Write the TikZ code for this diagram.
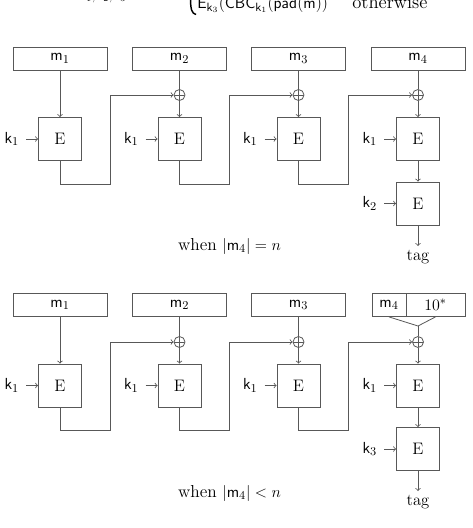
\documentclass[tikz,border=0pt]{standalone}
\usepackage{amsmath}
\definecolor{linegray}{RGB}{88,88,88}
\begin{document}
\begin{tikzpicture}[x=0.75pt,y=0.75pt,yscale=-1,xscale=1,
	font=\fontsize{12.5}{15}\selectfont,
	mbox/.style={draw=linegray, line width=0.6pt, minimum width=70.5pt, minimum height=17.25pt, inner sep=0pt},
	ebox/.style={draw=linegray, line width=0.6pt, minimum size=32.25pt, inner sep=0pt},
	xor/.style={circle, draw=linegray, line width=0.6pt, minimum size=8.25pt, inner sep=0pt,
		path picture={\draw[linegray, line width=0.6pt] (path picture bounding box.north) -- (path picture bounding box.south) (path picture bounding box.west) -- (path picture bounding box.east);}},
	wire/.style={draw=linegray, line width=0.6pt},
	klabel/.style={anchor=east, inner xsep=5pt, inner ysep=0.75pt},
	caption/.style={font=\fontsize{13}{15}\selectfont, inner sep=0.75pt}]
	\useasboundingbox (0,0) rectangle (472,528);
	\clip (0,0) rectangle (472,528);
	
	% Formula line, cut off at the top
	\node [anchor=base west, inner sep=0pt, font=\fontsize{9}{10}\selectfont] (subs) at (80,0.5) {$\mathsf{k}_1,\mathsf{k}_2,\mathsf{k}_3$};
	\draw [line width=1.1pt] (190.5,-3) .. controls (190.5,9) and (191.5,13.5) .. (196,14.5);
	\node [anchor=base west, inner sep=0pt, font=\fontsize{12.5}{15}\selectfont] (case) at (197,8.5) {$\mathsf{E}_{\mathsf{k}_3}(\mathsf{CBC}_{\mathsf{k}_1}(\mathsf{pad}(\mathsf{m}))$};
	\node [anchor=base west, inner sep=0pt, font=\fontsize{14}{16}\selectfont] (other) at (352,8.5) {otherwise};
	
	%%% Case |m4| = n
	% Message blocks
	\node [mbox] (m1a) at (60,58.5) {$\mathsf{m}_1$};
	\node [mbox] (m2a) at (179.5,58.5) {$\mathsf{m}_2$};
	\node [mbox] (m3a) at (298.5,58.5) {$\mathsf{m}_3$};
	\node [mbox] (m4a) at (418,58.5) {$\mathsf{m}_4$};
	% Xor
	\node [xor] (x2a) at (179.5,95) {};
	\node [xor] (x3a) at (298.5,95) {};
	\node [xor] (x4a) at (418,95) {};
	% Block cipher
	\node [ebox] (e1a) at (60,139) {E};
	\node [ebox] (e2a) at (179.5,139) {E};
	\node [ebox] (e3a) at (298.5,139) {E};
	\node [ebox] (e4a) at (418,139) {E};
	\node [ebox] (fa) at (418,203.5) {E};
	% Keys
	\node [klabel] (k1a) at (26,139) {$\mathsf{k}_1$};
	\node [klabel] (k2a) at (145.5,139) {$\mathsf{k}_1$};
	\node [klabel] (k3a) at (264.5,139) {$\mathsf{k}_1$};
	\node [klabel] (k4a) at (384,139) {$\mathsf{k}_1$};
	\node [klabel] (kfa) at (384,203.5) {$\mathsf{k}_2$};
	% Output
	\node [anchor=north, inner xsep=0.75pt, inner ysep=3pt] (taga) at (418,246) {tag};
	\node [caption] (capa) at (229.5,246) {when $|\mathsf{m}_4| = n$};
	
	\draw [wire,->] (m1a) -- (e1a);
	\draw [wire] (m2a) -- (x2a);
	\draw [wire] (m3a) -- (x3a);
	\draw [wire] (m4a) -- (x4a);
	\draw [wire,->] (x2a) -- (e2a);
	\draw [wire,->] (x3a) -- (e3a);
	\draw [wire,->] (x4a) -- (e4a);
	\draw [wire,->] (e1a.south) -- ++(0,23) -- ++(50,0) |- (x2a.west);
	\draw [wire,->] (e2a.south) -- ++(0,23) -- ++(50,0) |- (x3a.west);
	\draw [wire,->] (e3a.south) -- ++(0,23) -- ++(50,0) |- (x4a.west);
	\draw [wire,->] (k1a) -- (e1a);
	\draw [wire,->] (k2a) -- (e2a);
	\draw [wire,->] (k3a) -- (e3a);
	\draw [wire,->] (k4a) -- (e4a);
	\draw [wire,->] (kfa) -- (fa);
	\draw [wire,->] (e4a) -- (fa);
	\draw [wire,->] (fa) -- (taga);
	
	%%% Case |m4| < n
	% Message blocks
	\node [mbox] (m1b) at (60,305) {$\mathsf{m}_1$};
	\node [mbox] (m2b) at (179.5,305) {$\mathsf{m}_2$};
	\node [mbox] (m3b) at (298.5,305) {$\mathsf{m}_3$};
	\node [mbox, minimum width=25.5pt] (m4b) at (389,305) {$\mathsf{m}_4$};
	\node [mbox, minimum width=44.25pt] (padb) at (435.5,305) {$10^*$};
	\coordinate (joinb) at (418,326);
	% Xor
	\node [xor] (x2b) at (179.5,342) {};
	\node [xor] (x3b) at (298.5,342) {};
	\node [xor] (x4b) at (418,342) {};
	% Block cipher
	\node [ebox] (e1b) at (60,385.5) {E};
	\node [ebox] (e2b) at (179.5,385.5) {E};
	\node [ebox] (e3b) at (298.5,385.5) {E};
	\node [ebox] (e4b) at (418,385.5) {E};
	\node [ebox] (fb) at (418,449) {E};
	% Keys
	\node [klabel] (k1b) at (26,385.5) {$\mathsf{k}_1$};
	\node [klabel] (k2b) at (145.5,385.5) {$\mathsf{k}_1$};
	\node [klabel] (k3b) at (264.5,385.5) {$\mathsf{k}_1$};
	\node [klabel] (k4b) at (384,385.5) {$\mathsf{k}_1$};
	\node [klabel] (kfb) at (384,449) {$\mathsf{k}_3$};
	% Output
	\node [anchor=north, inner xsep=0.75pt, inner ysep=3pt] (tagb) at (418,491) {tag};
	\node [caption] (capb) at (229.5,493) {when $|\mathsf{m}_4| < n$};
	
	\draw [wire,->] (m1b) -- (e1b);
	\draw [wire] (m2b) -- (x2b);
	\draw [wire] (m3b) -- (x3b);
	\draw [wire] (m4b.south) -- (joinb) -- (padb.south);
	\draw [wire] (joinb) -- (x4b);
	\draw [wire,->] (x2b) -- (e2b);
	\draw [wire,->] (x3b) -- (e3b);
	\draw [wire,->] (x4b) -- (e4b);
	\draw [wire,->] (e1b.south) -- ++(0,23) -- ++(50,0) |- (x2b.west);
	\draw [wire,->] (e2b.south) -- ++(0,23) -- ++(50,0) |- (x3b.west);
	\draw [wire,->] (e3b.south) -- ++(0,23) -- ++(50,0) |- (x4b.west);
	\draw [wire,->] (k1b) -- (e1b);
	\draw [wire,->] (k2b) -- (e2b);
	\draw [wire,->] (k3b) -- (e3b);
	\draw [wire,->] (k4b) -- (e4b);
	\draw [wire,->] (kfb) -- (fb);
	\draw [wire,->] (e4b) -- (fb);
	\draw [wire,->] (fb) -- (tagb);
	
\end{tikzpicture}
\end{document}
